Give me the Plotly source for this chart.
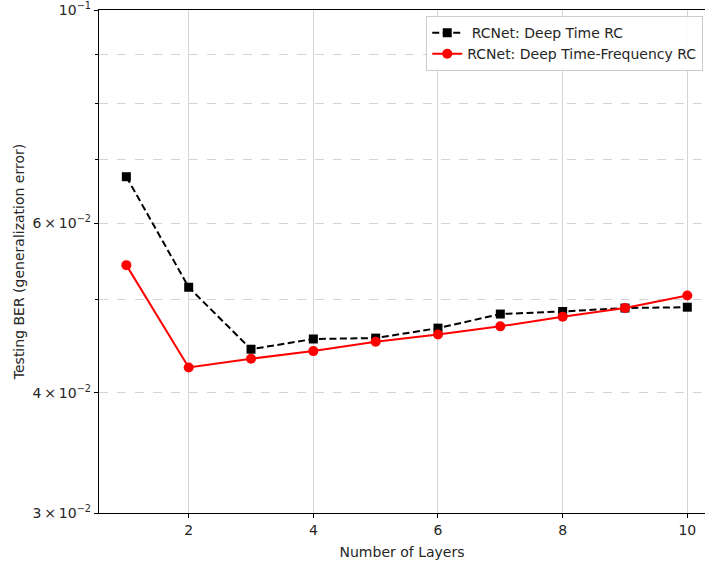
import plotly.graph_objects as go

# Number of stacked reservoir layers
layers = [1, 2, 3, 4, 5, 6, 7, 8, 9, 10]

# Testing BER for each architecture
ber_time = [0.0671, 0.0515, 0.0444, 0.0455, 0.0456, 0.0467, 0.0483, 0.0486, 0.0490, 0.0491]
ber_time_freq = [0.0543, 0.0425, 0.0434, 0.0442, 0.0452, 0.0460, 0.0469, 0.0480, 0.0490, 0.0505]

# Y-axis tick positions and labels
y_major_vals = [0.03, 0.04, 0.06, 0.1]
y_major_text = [
    "3\u2009×\u200910<sup>−2</sup>",
    "4\u2009×\u200910<sup>−2</sup>",
    "6\u2009×\u200910<sup>−2</sup>",
    "10<sup>−1</sup>",
]
y_minor_vals = [0.05, 0.07, 0.08, 0.09]
x_tick_vals = [2, 4, 6, 8, 10]

FONT = "DejaVu Sans"
TXT = "#262626"

fig = go.Figure()

fig.add_trace(go.Scatter(
    x=layers, y=ber_time, mode="lines+markers",
    name=" RCNet: Deep Time RC",
    line=dict(color="black", width=2, dash="7px,3.5px"),
    marker=dict(symbol="square", size=9, color="black"),
))

fig.add_trace(go.Scatter(
    x=layers, y=ber_time_freq, mode="lines+markers",
    name="RCNet: Deep Time-Frequency RC",
    line=dict(color="#ff0000", width=2),
    marker=dict(symbol="circle", size=10, color="#ff0000"),
))

fig.update_layout(
    width=705, height=567,
    margin=dict(l=99, r=0, t=7, b=54),
    plot_bgcolor="white", paper_bgcolor="white",
    font=dict(family=FONT, size=14, color=TXT),
    showlegend=True,
    legend=dict(
        x=0.54, y=0.988, xanchor="left", yanchor="top",
        bgcolor="rgba(255,255,255,0.9)",
        bordercolor="#cccccc", borderwidth=1,
        font=dict(family=FONT, size=14, color=TXT),
        tracegroupgap=0,
    ),
    xaxis=dict(
        range=[0.561, 10.284],
        tickvals=x_tick_vals,
        showgrid=True, gridcolor="#d4d4d4", gridwidth=1,
        showline=True, linecolor="black", linewidth=1.2, mirror=True,
        ticks="outside", ticklen=4, tickcolor="black",
        zeroline=False,
        title=dict(text="Number of Layers", standoff=10,
                   font=dict(family=FONT, size=14, color=TXT)),
        tickfont=dict(family=FONT, size=14, color=TXT),
    ),
    yaxis=dict(
        type="log",
        range=[-1.5228787, -0.99995],
        tickvals=y_major_vals, ticktext=y_major_text,
        ticklabeloverflow="allow",
        showgrid=True, gridcolor="#d4d4d4", gridwidth=1, griddash="dash",
        showline=True, linecolor="black", linewidth=1.2, mirror=False,
        ticks="outside", ticklen=4, tickcolor="black",
        zeroline=False,
        minor=dict(tickvals=y_minor_vals, ticks="outside", ticklen=2.5,
                   tickcolor="black", showgrid=True, gridcolor="#d4d4d4",
                   griddash="dash", gridwidth=1),
        title=dict(text="Testing BER (generalization error)", standoff=4,
                   font=dict(family=FONT, size=14, color=TXT)),
        tickfont=dict(family=FONT, size=14, color=TXT),
    ),
)

fig.write_html("out.html")
